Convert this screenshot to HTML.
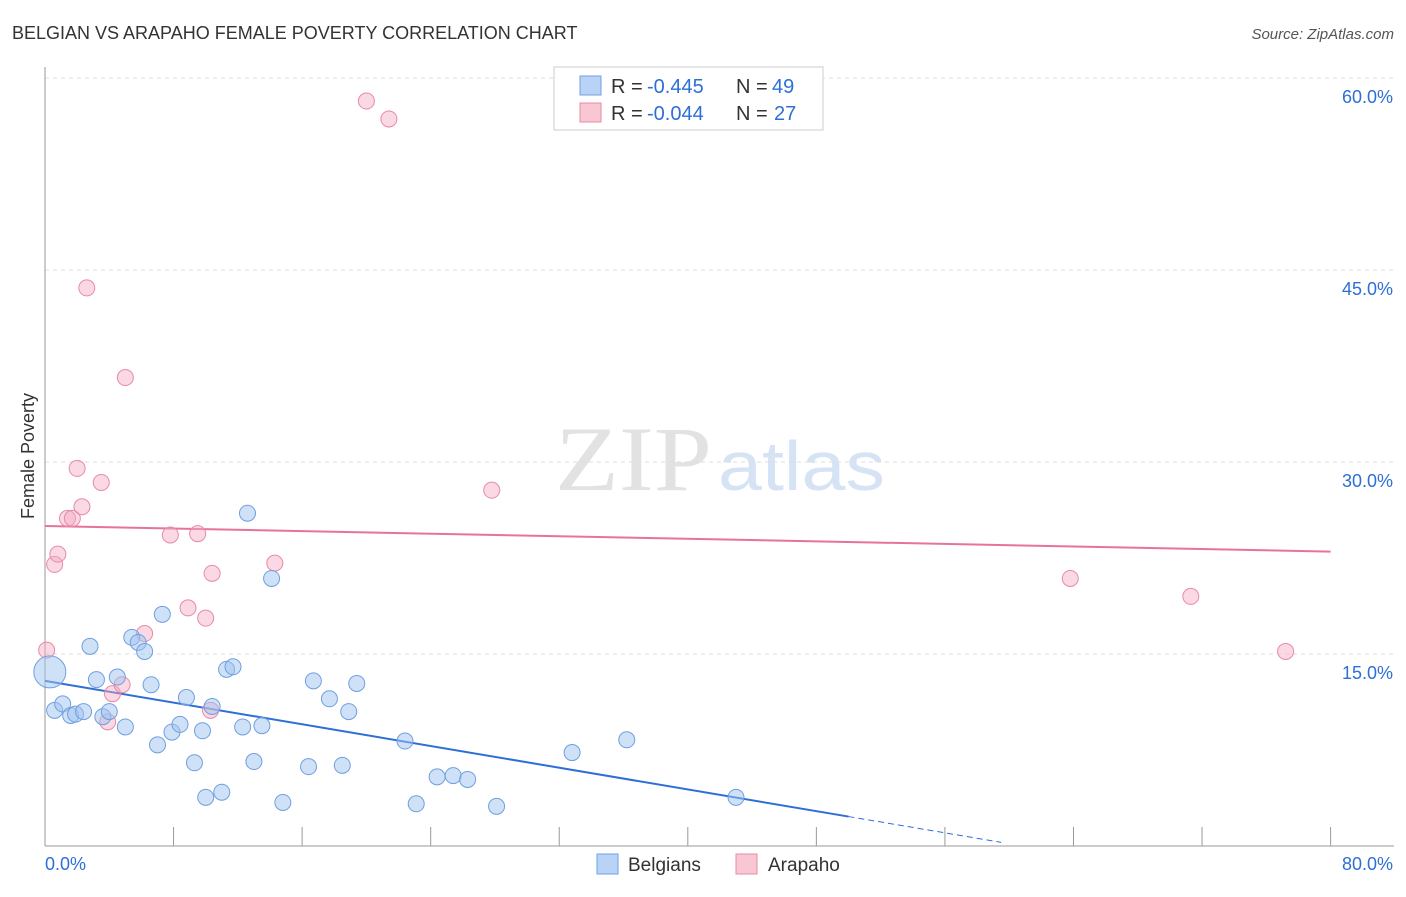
<!DOCTYPE html>
<html><head><meta charset="utf-8"><style>
body{margin:0;background:#fff;font-family:"Liberation Sans",sans-serif}
svg text{font-family:"Liberation Sans",sans-serif}
</style></head><body>
<svg id="c" width="1406" height="892" viewBox="0 0 1406 892" xmlns="http://www.w3.org/2000/svg">
<text x="12" y="39" font-size="18" fill="#333">BELGIAN VS ARAPAHO FEMALE POVERTY CORRELATION CHART</text>
<text x="1394" y="39" font-size="15" fill="#555" text-anchor="end" font-style="italic">Source: ZipAtlas.com</text>
<text x="555" y="490" font-size="92" fill="#e2e2e2" style="font-family:'Liberation Serif',serif" textLength="157" lengthAdjust="spacingAndGlyphs">ZIP</text>
<text x="718" y="490" font-size="70" fill="#d5e3f5" textLength="167" lengthAdjust="spacingAndGlyphs">atlas</text>
<g id="grid"></g><g id="axes"></g><g id="trend"></g><g id="pts"></g>
<text transform="translate(34,456) rotate(-90)" font-size="18" fill="#333" text-anchor="middle">Female Poverty</text>
<g>
<rect x="554" y="67" width="269" height="63" fill="#fff" stroke="#ccc"/>
<rect x="580" y="76" width="21" height="19" fill="#b8d3f5" stroke="#6f9fe0"/>
<rect x="580" y="103" width="21" height="19" fill="#f9c6d4" stroke="#e88aa5"/>
<text x="611" y="93" font-size="20" fill="#333">R =</text>
<text x="647" y="93" font-size="20" fill="#2d6fd6">-0.445</text>
<text x="736" y="93" font-size="20" fill="#333">N =</text>
<text x="772" y="93" font-size="20" fill="#2d6fd6">49</text>
<text x="611" y="120" font-size="20" fill="#333">R =</text>
<text x="647" y="120" font-size="20" fill="#2d6fd6">-0.044</text>
<text x="736" y="120" font-size="20" fill="#333">N =</text>
<text x="774" y="120" font-size="20" fill="#2d6fd6">27</text>
</g>
<g>
<rect x="597" y="854" width="21" height="20" fill="#b8d3f5" stroke="#6f9fe0"/>
<text x="628" y="871" font-size="19" fill="#333">Belgians</text>
<rect x="736" y="854" width="21" height="20" fill="#f9c6d4" stroke="#e88aa5"/>
<text x="768" y="871" font-size="19" fill="#333">Arapaho</text>
</g>
</svg>
<script>
const blueX=[0.3,0.6,1.1,1.6,1.9,2.4,2.8,3.2,3.6,4.0,4.5,5.0,5.4,5.8,6.2,6.6,7.0,7.3,7.9,8.4,8.8,9.3,9.8,10.0,10.4,11.0,11.3,11.7,12.3,12.6,13.0,13.5,14.1,14.8,16.4,16.7,17.7,18.5,18.9,19.4,22.4,23.1,24.4,25.4,26.3,28.1,32.8,36.2,43.0];
const blueY=[13.6,10.6,11.1,10.2,10.3,10.5,15.6,13.0,10.1,10.5,13.2,9.3,16.3,15.9,15.2,12.6,7.9,18.1,8.9,9.5,11.6,6.5,9.0,3.8,10.9,4.2,13.8,14.0,9.3,26.0,6.6,9.4,20.9,3.4,6.2,12.9,11.5,6.3,10.5,12.7,8.2,3.3,5.4,5.5,5.2,3.1,7.3,8.3,3.8];
const pinkX=[0.1,0.6,0.8,1.4,1.7,2.0,2.3,2.6,3.5,3.9,4.2,4.8,5.0,6.2,7.8,8.9,9.5,10.0,10.3,10.4,14.3,20.0,21.4,27.8,63.8,71.3,77.2];
const pinkY=[15.3,22.0,22.8,25.6,25.6,29.5,26.5,43.6,28.4,9.7,11.9,12.6,36.6,16.6,24.3,18.6,24.4,17.8,10.6,21.3,22.1,58.2,56.8,27.8,20.9,19.5,15.2];
const blueTrend=[12.9,2.3];
const pinkTrend=[25.0,23.0];
const yTicks=[15,30,45,60];
const yTickLabels=["15.0%","30.0%","45.0%","60.0%"];
const xTicks=[0,8,16,24,32,40,48,56,64,72,80];
const NS="http://www.w3.org/2000/svg";
const X=v=>45+v*16.07, Y=v=>846-v*12.8;
function mk(tag,attrs,parent){const e=document.createElementNS(NS,tag);for(const k in attrs)e.setAttribute(k,attrs[k]);document.getElementById(parent).appendChild(e);return e;}
yTicks.forEach((t,i)=>{
 const l=mk('line',{x1:45,x2:1394,y1:Y(t),y2:Y(t),stroke:'#ddd','stroke-dasharray':'4,4'},'grid');
 
 
 const tx=mk('text',{x:1393,y:Y(t)+25,'font-size':18,fill:'#2d6fd6','text-anchor':'end'},'grid');
 tx.textContent=yTickLabels[i];
 
 
});
const yAxis=mk('line',{x1:45,x2:45,y1:67,y2:846,stroke:'#999'},'axes');

const xAxis=mk('line',{x1:45,x2:1394,y1:846,y2:846,stroke:'#999'},'axes');

xTicks.forEach(t=>{
 const l=mk('line',{x1:X(t),x2:X(t),y1:827,y2:846,stroke:'#999'},'axes');
 
 
});
const xl=mk('text',{x:45,y:870,'font-size':18,fill:'#2d6fd6'},'axes');xl.textContent='0.0%';

const xr=mk('text',{x:1393,y:870,'font-size':18,fill:'#2d6fd6','text-anchor':'end'},'axes');xr.textContent='80.0%';

const bs=(blueTrend[1]-blueTrend[0])/50;
const bl=mk('line',{x1:X(0),y1:Y(blueTrend[0]),x2:X(50),y2:Y(blueTrend[1]),stroke:'#2d6fd6','stroke-width':2},'trend');


const bd=mk('line',{x1:X(50),y1:Y(blueTrend[1]),x2:X(59.5),y2:Y(blueTrend[0]+bs*59.5),stroke:'#2d6fd6','stroke-width':1,'stroke-dasharray':'6,4'},'trend');


const pl=mk('line',{x1:X(0),y1:Y(pinkTrend[0]),x2:X(80),y2:Y(pinkTrend[1]),stroke:'#e8739a','stroke-width':2},'trend');


pinkX.forEach((x,i)=>{
 const c=mk('circle',{cx:X(x),cy:Y(pinkY[i]),r:8,fill:'rgba(245,170,195,0.45)',stroke:'#e88aa5','stroke-width':1},'pts');
 
 
});
blueX.forEach((x,i)=>{
 const c=mk('circle',{cx:X(x),cy:Y(blueY[i]),r:i==0?16:8,fill:'rgba(160,195,240,0.5)',stroke:'#6f9fe0','stroke-width':1},'pts');
 
 
});
</script>
</body></html>
